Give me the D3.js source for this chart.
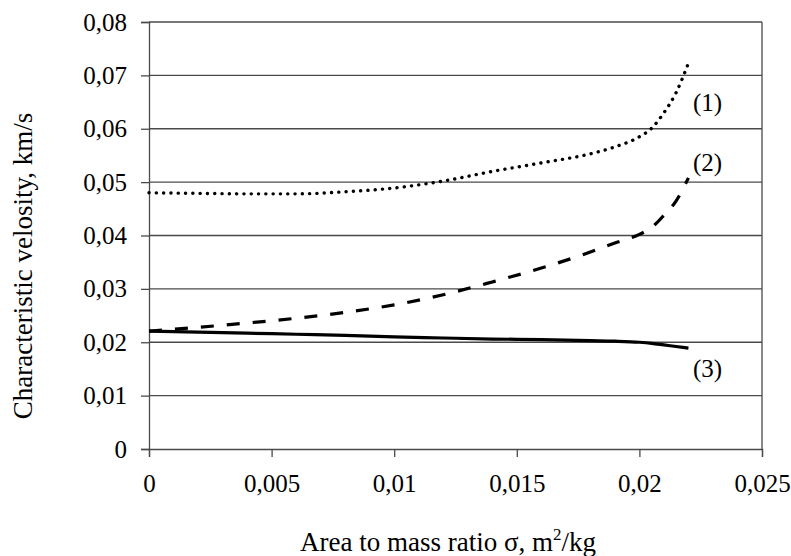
<!DOCTYPE html>
<html>
<head>
<meta charset="utf-8">
<script src="https://cdn.jsdelivr.net/npm/d3@7"></script>
<style>
  html, body { margin: 0; padding: 0; background: #fff; }
  svg { display: block; }
  text { font-family: "Liberation Serif", "Times New Roman", serif; fill: #000; }
</style>
</head>
<body>
<svg id="chart" width="791" height="556"></svg>
<script>
// ---- data ----
const sigma   = [0, 0.002, 0.004, 0.006, 0.008, 0.010, 0.012, 0.014, 0.016, 0.018, 0.019, 0.020, 0.0205, 0.021, 0.0215, 0.022];
const curve1  = [0.0480, 0.0479, 0.0478, 0.0478, 0.0482, 0.0489, 0.0502, 0.0520, 0.0536, 0.0553, 0.0566, 0.0585, 0.0601, 0.0630, 0.0668, 0.0723];
const curve2  = [0.0221, 0.0228, 0.0236, 0.0245, 0.0256, 0.0270, 0.0289, 0.0313, 0.0339, 0.0369, 0.0386, 0.0402, 0.0415, 0.0438, 0.0465, 0.0508];
const curve3  = [0.0221, 0.0219, 0.0217, 0.0215, 0.0213, 0.0210, 0.0208, 0.0206, 0.0205, 0.0203, 0.0202, 0.0200, 0.0198, 0.0195, 0.0192, 0.0189];
const curveLabels = ["(1)", "(2)", "(3)"];
const labelValues = [0.0650, 0.0538, 0.0152];
const xTicks = [0, 0.005, 0.01, 0.015, 0.02, 0.025];
const yTicks = [0, 0.01, 0.02, 0.03, 0.04, 0.05, 0.06, 0.07, 0.08];
const xTitle = "Area to mass ratio σ, m";
const yTitle = "Characteristic velosity, km/s";

// ---- layout ----
const svg = d3.select("#chart");
const L = 149, R = 762, T = 22, B = 449;
const x = d3.scaleLinear().domain([0, 0.025]).range([L, R]);
const y = d3.scaleLinear().domain([0, 0.08]).range([B, T]);
const fmt = d => d === 0 ? "0" : String(d).replace(".", ",");
const gridColor = "#4a4a4a";

// gridlines
svg.append("g").selectAll("line").data(yTicks.filter(d => d > 0)).join("line")
  .attr("x1", L).attr("x2", R)
  .attr("y1", d => y(d)).attr("y2", d => y(d))
  .attr("stroke", gridColor).attr("stroke-width", 1.3);

// right border
svg.append("line").attr("x1", R).attr("x2", R).attr("y1", T).attr("y2", B)
  .attr("stroke", gridColor).attr("stroke-width", 1.3);

// y axis
const yAxis = svg.append("g").attr("transform", `translate(${L},0)`)
  .call(d3.axisLeft(y).tickValues(yTicks).tickFormat(fmt).tickSize(8).tickPadding(14));
// x axis
const xAxis = svg.append("g").attr("transform", `translate(0,${B})`)
  .call(d3.axisBottom(x).tickValues(xTicks).tickFormat(fmt).tickSize(8).tickPadding(14));

[yAxis, xAxis].forEach(g => {
  g.select(".domain").attr("stroke", gridColor).attr("stroke-width", 1.3);
  g.selectAll(".tick line").attr("stroke", gridColor).attr("stroke-width", 1.3);
  g.selectAll(".tick text").attr("font-family", "Liberation Serif").attr("font-size", 25).attr("fill", "#000");
});
xAxis.selectAll(".tick text").attr("dy", "0.85em");

// lines
const line = vals => d3.line().x((d, i) => x(sigma[i])).y(d => y(d)).curve(d3.curveMonotoneX)(vals);

svg.append("path").attr("d", line(curve1)).attr("fill", "none")
  .attr("stroke", "#000").attr("stroke-width", 3.4).attr("stroke-linecap", "round")
  .attr("stroke-dasharray", "0.1 7.2");
svg.append("path").attr("d", line(curve2)).attr("fill", "none")
  .attr("stroke", "#000").attr("stroke-width", 3.2)
  .attr("stroke-dasharray", "13 13");
svg.append("path").attr("d", line(curve3)).attr("fill", "none")
  .attr("stroke", "#000").attr("stroke-width", 3.2);

// curve labels
svg.append("g").selectAll("text").data(curveLabels).join("text")
  .attr("x", 693).attr("y", (d, i) => y(labelValues[i]))
  .attr("dy", "0.35em").attr("font-size", 25).text(d => d);

// axis titles
const xt = svg.append("text").attr("x", 448).attr("y", 551)
  .attr("text-anchor", "middle").attr("font-size", 27);
xt.append("tspan").text(xTitle);
xt.append("tspan").attr("font-size", 17).attr("dy", -11).text("2");
xt.append("tspan").attr("dy", 11).text("/kg");

svg.append("text").attr("transform", `translate(32,266) rotate(-90)`)
  .attr("text-anchor", "middle").attr("font-size", 27).text(yTitle);
</script>
</body>
</html>
